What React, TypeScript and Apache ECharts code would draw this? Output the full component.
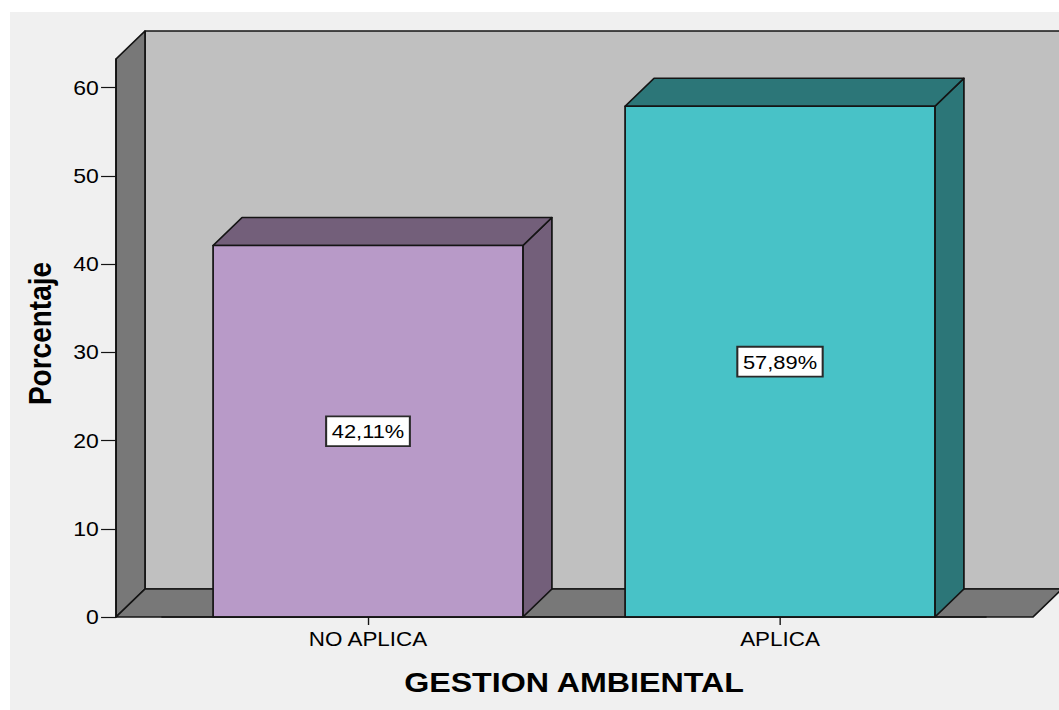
import React, { useEffect, useRef } from 'react';
import * as echarts from 'echarts';

// ---- data ----
const categories: string[] = ['NO APLICA', 'APLICA'];
const percentages: number[] = [42.11, 57.89];
const yTickValues: number[] = [0, 10, 20, 30, 40, 50, 60];
const yMax = 63.25;
const xAxisTitle = 'GESTION AMBIENTAL';
const yAxisTitle = 'Porcentaje';

// ---- layout / style ----
const CW = 921; // chart width before horizontal stretch
const CH = 710;
const S = 1059 / CW; // horizontal stretch of the original picture
const FONT = 'Arial, "Liberation Sans", sans-serif';
const DX = 29 / S; // 3D depth offsets
const DY = 28;
const EXT_L = 46 / S; // box walls extend beyond the category bands
const EXT_R = 47 / S;
const BAR_RATIO = 0.752;
const EDGE = '#141414';
const LW = 1.5;
const barColors = [
  { front: '#b89ac8', dark: '#735f7a' },
  { front: '#48c2c7', dark: '#2c7678' },
];

function fmt(v: number) {
  return v.toFixed(2).replace('.', ',') + '%';
}

export default function App() {
  const ref = useRef<HTMLDivElement>(null);

  useEffect(() => {
    const chart = echarts.init(ref.current!, null, { renderer: 'svg', width: CW, height: CH });
    const option: any = {
      animation: false,
      backgroundColor: 'transparent',
      grid: {
        left: 162 / S,
        right: (1059 - 986) / S,
        top: 59,
        bottom: CH - 617,
      },
      xAxis: {
        type: 'category',
        data: categories,
        z: 5,
        boundaryGap: true,
        axisLine: { show: true, lineStyle: { color: EDGE, width: LW } },
        axisTick: { show: true, alignWithLabel: true, length: 8, lineStyle: { color: EDGE, width: 1.2 } },
        axisLabel: { color: '#000', fontSize: 19.5, fontFamily: FONT, margin: 12 },
        name: xAxisTitle,
        nameLocation: 'middle',
        nameGap: 65,
        nameTextStyle: {
          color: '#000',
          fontSize: 28,
          fontWeight: 'bold',
          fontFamily: FONT,
          verticalAlign: 'middle',
          align: 'center',
        },
      },
      yAxis: {
        type: 'value',
        min: 0,
        max: yMax,
        offset: (162 - 116) / S,
        z: 5,
        splitLine: { show: false },
        axisLine: { show: true, lineStyle: { color: EDGE, width: LW } },
        axisTick: { show: true, length: 13, customValues: yTickValues, lineStyle: { color: EDGE, width: 1.2 } },
        axisLabel: { color: '#000', fontSize: 20, fontFamily: FONT, margin: 15, customValues: yTickValues },
        name: yAxisTitle,
        nameLocation: 'middle',
        nameGap: 66,
        nameRotate: 90,
        nameTextStyle: {
          color: '#000',
          fontSize: 28,
          fontWeight: 'bold',
          fontFamily: FONT,
          verticalAlign: 'middle',
          align: 'center',
          padding: [0, 0, 0, 9],
        },
      },
      series: [
        {
          type: 'custom',
          name: 'walls',
          z: 1,
          silent: true,
          data: [[0, 0]],
          renderItem: (params: any) => {
            const cs = params.coordSys;
            const left = cs.x - EXT_L;
            const right = cs.x + cs.width + EXT_R;
            const top = cs.y;
            const bottom = cs.y + cs.height;
            const st = { stroke: EDGE, lineWidth: LW, lineJoin: 'round' };
            return {
              type: 'group',
              children: [
                {
                  type: 'rect',
                  shape: { x: left + DX, y: top - DY, width: right - left, height: bottom - top },
                  style: { fill: '#c0c0c0', ...st },
                },
                {
                  type: 'polygon',
                  shape: { points: [[left, bottom], [left, top], [left + DX, top - DY], [left + DX, bottom - DY]] },
                  style: { fill: '#787878', ...st },
                },
                {
                  type: 'polygon',
                  shape: { points: [[left, bottom], [right, bottom], [right + DX, bottom - DY], [left + DX, bottom - DY]] },
                  style: { fill: '#787878', ...st },
                },
              ],
            };
          },
        },
        {
          type: 'custom',
          name: 'Porcentaje',
          z: 2,
          data: percentages.map((v, i) => [i, v]),
          encode: { x: 0, y: 1 },
          renderItem: (params: any, api: any) => {
            const idx = api.value(0);
            const v = api.value(1);
            const top = api.coord([idx, v]);
            const base = api.coord([idx, 0]);
            const w = api.size([1, 0])[0] * BAR_RATIO;
            const x0 = top[0] - w / 2;
            const x1 = top[0] + w / 2;
            const yt = top[1];
            const yb = base[1];
            const c = barColors[idx % barColors.length];
            const st = { stroke: EDGE, lineWidth: LW, lineJoin: 'round' };
            return {
              type: 'group',
              children: [
                {
                  type: 'polygon',
                  shape: { points: [[x1, yt], [x1 + DX, yt - DY], [x1 + DX, yb - DY], [x1, yb]] },
                  style: { fill: c.dark, ...st },
                },
                {
                  type: 'polygon',
                  shape: { points: [[x0, yt], [x1, yt], [x1 + DX, yt - DY], [x0 + DX, yt - DY]] },
                  style: { fill: c.dark, ...st },
                },
                {
                  type: 'rect',
                  shape: { x: x0, y: yt, width: w, height: yb - yt },
                  style: { fill: c.front, ...st },
                },
                {
                  type: 'text',
                  x: top[0],
                  y: (yt + yb) / 2,
                  style: {
                    text: fmt(v),
                    fill: '#000',
                    fontSize: 19,
                    fontFamily: FONT,
                    align: 'center',
                    verticalAlign: 'middle',
                    backgroundColor: '#ffffff',
                    borderColor: '#2a2a2a',
                    borderWidth: 1.8,
                    padding: [5, 4, 4, 4],
                  },
                },
              ],
            };
          },
        },
      ],
    };
    chart.setOption(option);
    return () => chart.dispose();
  }, []);

  return (
    <div style={{ position: 'absolute', left: 0, top: 0, width: 1059, height: 710, background: '#ffffff', overflow: 'hidden' }}>
      <div style={{ position: 'absolute', left: 10, top: 12, right: 0, bottom: 0, background: '#f0f0f0' }} />
      <div
        ref={ref}
        style={{
          position: 'absolute',
          left: 0,
          top: 0,
          width: CW,
          height: CH,
          transform: `scaleX(${S})`,
          transformOrigin: '0 0',
        }}
      />
    </div>
  );
}
